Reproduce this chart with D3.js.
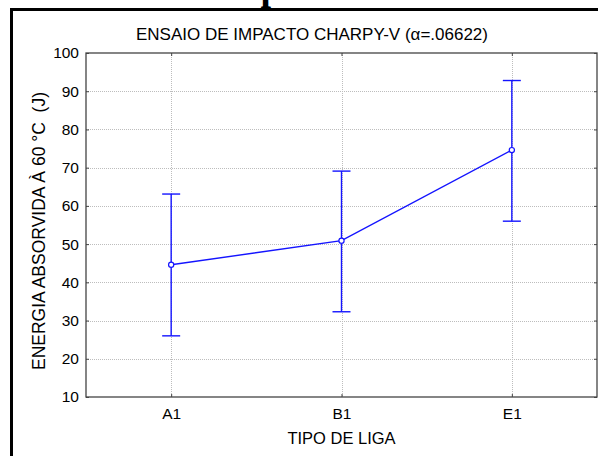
<!DOCTYPE html>
<html>
<head>
<meta charset="utf-8">
<script src="https://cdn.jsdelivr.net/npm/d3@7"></script>
<style>
html,body{margin:0;padding:0;background:#fff;}
svg{display:block;}
text{font-family:Arial,"Liberation Sans",sans-serif;}
</style>
</head>
<body>
<svg id="chart" width="598" height="456"></svg>
<script>
const categories = ["A1", "B1", "E1"];
const means = [44.6, 50.9, 74.6];
const upper = [63.1, 69.1, 92.8];
const lower = [26.0, 32.3, 56.0];
const yTicks = [10, 20, 30, 40, 50, 60, 70, 80, 90, 100];
const title = "ENSAIO DE IMPACTO CHARPY-V (\u03b1=.06622)";
const xTitle = "TIPO DE LIGA";
const yTitle = "ENERGIA ABSORVIDA \u00c0 60 \u00b0C  (J)";

const svg = d3.select("#chart");
const m = {left: 86, right: 597, top: 53, bottom: 397};

// cropped page heading (only the descender is visible)
svg.append("text").attr("x", 271).attr("y", 0)
  .attr("font-weight", "bold").attr("font-size", 38)
  .attr("text-anchor", "middle").style("font-family", "'Liberation Serif','Times New Roman',serif").text("p");

// outer frame
svg.append("rect").attr("x", 11.5).attr("y", 9.5).attr("width", 620).attr("height", 500)
  .attr("fill", "none").attr("stroke", "#000").attr("stroke-width", 3);

const x = d3.scalePoint().domain(categories).range([m.left, m.right]).padding(0.5);
const y = d3.scaleLinear().domain([10, 100]).range([m.bottom, m.top]);

// grid
const grid = svg.append("g");
grid.selectAll(".gy").data(yTicks.slice(1, -1)).join("line")
  .attr("x1", m.left).attr("x2", m.right)
  .attr("y1", d => Math.round(y(d)) + 0.5).attr("y2", d => Math.round(y(d)) + 0.5)
  .attr("stroke", "#bdbdbd").attr("stroke-dasharray", "1,1");
grid.selectAll(".gx").data(categories).join("line")
  .attr("x1", d => Math.round(x(d)) + 0.5).attr("x2", d => Math.round(x(d)) + 0.5)
  .attr("y1", m.top).attr("y2", m.bottom)
  .attr("stroke", "#bdbdbd").attr("stroke-dasharray", "1,1");

// axes (ticks pointing inward)
const gL = svg.append("g").attr("transform", `translate(${m.left},0)`)
  .call(d3.axisLeft(y).tickValues(yTicks).tickSize(-3).tickPadding(7));
const gR = svg.append("g").attr("transform", `translate(${m.right},0)`)
  .call(d3.axisRight(y).tickValues(yTicks).tickSize(-3).tickFormat(""));
const gB = svg.append("g").attr("transform", `translate(0,${m.bottom})`)
  .call(d3.axisBottom(x).tickSize(-3).tickPadding(11));
const gT = svg.append("g").attr("transform", `translate(0,${m.top})`)
  .call(d3.axisTop(x).tickSize(-3).tickFormat(""));
[gL, gR, gB, gT].forEach(g => {
  g.select(".domain").remove();
  g.selectAll(".tick line").attr("stroke", "#444");
  g.selectAll(".tick text").attr("fill", "#000").attr("font-size", 15.5)
    .attr("font-family", "Arial,'Liberation Sans',sans-serif");
});

// plot frame
svg.append("rect").attr("x", m.left).attr("y", m.top)
  .attr("width", m.right - m.left).attr("height", m.bottom - m.top)
  .attr("fill", "none").attr("stroke", "#444").attr("stroke-width", 1.3);

// error bars
const blue = "#1414ff";
const eb = svg.append("g");
eb.selectAll(".v").data(categories).join("line")
  .attr("x1", d => x(d)).attr("x2", d => x(d))
  .attr("y1", (d, i) => y(upper[i])).attr("y2", (d, i) => y(lower[i]))
  .attr("stroke", blue).attr("stroke-width", 1.4);
eb.selectAll(".cu").data(categories).join("line")
  .attr("x1", d => x(d) - 9).attr("x2", d => x(d) + 9)
  .attr("y1", (d, i) => y(upper[i])).attr("y2", (d, i) => y(upper[i]))
  .attr("stroke", blue).attr("stroke-width", 1.4);
eb.selectAll(".cl").data(categories).join("line")
  .attr("x1", d => x(d) - 9).attr("x2", d => x(d) + 9)
  .attr("y1", (d, i) => y(lower[i])).attr("y2", (d, i) => y(lower[i]))
  .attr("stroke", blue).attr("stroke-width", 1.4);

// mean line
svg.append("path").datum(means)
  .attr("d", d3.line().x((d, i) => x(categories[i])).y(d => y(d)))
  .attr("fill", "none").attr("stroke", blue).attr("stroke-width", 1.4);
svg.selectAll(".pt").data(means).join("circle")
  .attr("cx", (d, i) => x(categories[i])).attr("cy", d => y(d)).attr("r", 2.6)
  .attr("fill", "#fff").attr("stroke", blue).attr("stroke-width", 1.2);

// titles
svg.append("text").attr("x", 312).attr("y", 40).attr("text-anchor", "middle")
  .attr("font-size", 17).text(title);
svg.append("text").attr("x", (m.left + m.right) / 2).attr("y", 444).attr("text-anchor", "middle")
  .attr("font-size", 16.5).text(xTitle);
svg.append("text").attr("transform", `translate(45,231) rotate(-90)`)
  .attr("text-anchor", "middle").attr("font-size", 17.5)
  .style("white-space", "pre").text(yTitle);
</script>
</body>
</html>
